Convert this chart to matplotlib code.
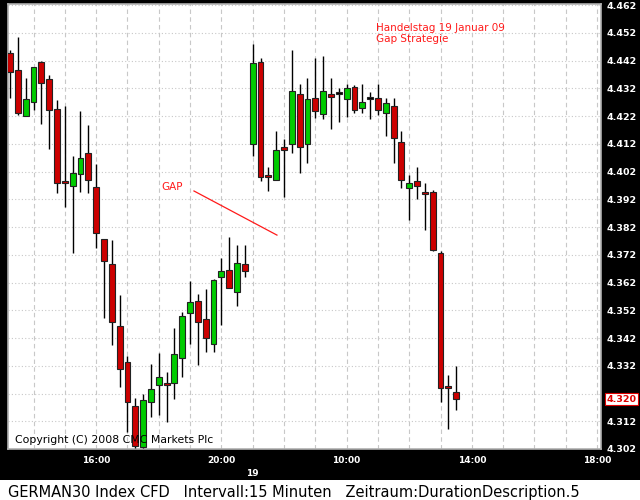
import matplotlib
matplotlib.use("Agg")
import matplotlib.pyplot as plt
from matplotlib.patches import Rectangle

# 15 minute candles, GERMAN30 CFD, 18./19. Jan 2009 (index points)
opens = [4444.7, 4438.6, 4422.0, 4427.0, 4441.5, 4435.3, 4424.5, 4398.6, 4396.8, 4401.1,
         4408.7, 4396.4, 4377.7, 4368.7, 4346.3, 4333.3, 4317.5, 4302.7, 4318.9, 4325.0,
         4325.6, 4325.8, 4334.8, 4351.0, 4355.3, 4348.8, 4339.8, 4364.0, 4366.5, 4358.6,
         4368.7,
         4411.9, 4441.5, 4400.7, 4398.9, 4410.8, 4411.9, 4429.9, 4411.9, 4428.5, 4422.7,
         4429.9, 4429.9, 4428.1, 4432.4, 4424.9, 4428.1, 4428.5, 4423.1, 4425.6, 4412.6,
         4396.0, 4398.6, 4394.6, 4394.6, 4372.6, 4324.7, 4322.5]
highs = [4445.8, 4450.5, 4435.7, 4439.7, 4442.0, 4436.8, 4427.8, 4425.6, 4407.6, 4423.8,
         4418.8, 4404.7, 4377.7, 4377.3, 4357.5, 4335.5, 4320.4, 4321.8, 4332.6, 4336.6,
         4329.7, 4345.6, 4351.4, 4362.5, 4357.8, 4359.6, 4363.2, 4370.8, 4378.4, 4375.5,
         4375.5,
         4447.9, 4442.9, 4403.6, 4416.6, 4413.7, 4445.8, 4433.5, 4435.7, 4442.9, 4443.6,
         4435.7, 4432.1, 4433.5, 4433.2, 4433.5, 4430.6, 4433.5, 4428.5, 4428.5, 4416.6,
         4400.7, 4403.6, 4397.8, 4395.3, 4373.3, 4328.7, 4331.9]
lows = [4428.5, 4422.5, 4422.0, 4424.2, 4419.1, 4410.1, 4394.2, 4389.2, 4372.6, 4394.6,
        4394.2, 4374.4, 4349.2, 4339.5, 4324.3, 4308.1, 4302.5, 4302.5, 4313.5, 4314.2,
        4311.7, 4320.0, 4327.9, 4339.8, 4332.3, 4336.9, 4336.9, 4346.7, 4360.0, 4353.5,
        4364.0,
        4407.6, 4398.6, 4395.0, 4398.9, 4392.8, 4408.7, 4401.5, 4405.1, 4421.3, 4420.9,
        4417.3, 4419.8, 4421.6, 4423.1, 4423.1, 4420.9, 4422.4, 4414.8, 4405.1, 4396.0,
        4384.5, 4392.1, 4380.9, 4373.3, 4318.9, 4309.2, 4316.0]
closes = [4437.9, 4423.1, 4428.1, 4439.7, 4433.9, 4424.2, 4397.8, 4397.8, 4401.5, 4406.9,
          4398.9, 4379.8, 4369.7, 4347.8, 4330.8, 4318.9, 4303.0, 4319.6, 4323.6, 4327.9,
          4325.0, 4336.2, 4349.9, 4355.0, 4347.8, 4342.0, 4362.9, 4366.1, 4360.0, 4369.0,
          4366.1,
          4441.1, 4400.0, 4400.0, 4409.7, 4409.7, 4431.0, 4410.8, 4428.1, 4423.8, 4431.0,
          4428.8, 4429.9, 4432.1, 4424.2, 4427.0, 4428.1, 4424.2, 4426.7, 4414.1, 4398.9,
          4397.8, 4396.8, 4393.9, 4373.7, 4324.0, 4324.0, 4320.0]

price_ticks = list(range(4302, 4463, 10))
time_labels = ['16:00', '20:00', '10:00', '14:00', '18:00']
day_label = '19'
last_price = closes[-1]

n = len(closes)
idx = list(range(n))
day_break = 31          # first candle of 19.01.
candles_per_hour = 4
first_hour = 3          # 14:00 on the first day
axis_end = 75.5

fig = plt.figure(figsize=(6.4, 5.0), dpi=100, facecolor='black')
fig.patches.append(Rectangle((0, 0), 1, 0.04, transform=fig.transFigure,
                             facecolor='white', edgecolor='none', zorder=0))
ax = fig.add_axes([8 / 640, 51 / 500, 593 / 640, 445 / 500])
ax.set_facecolor('white')

# wicks
ax.vlines(idx, lows, highs, color='black', linewidth=1.0, zorder=3)

# bodies
bottoms = [min(o, c) for o, c in zip(opens, closes)]
heights = [max(abs(c - o), 0.7) for o, c in zip(opens, closes)]
colors = []
for o, c in zip(opens, closes):
    if c > o:
        colors.append('#00cc00')
    elif c < o:
        colors.append('#cc0000')
    else:
        colors.append('black')
ax.bar(idx, heights, bottom=bottoms, width=0.75, color=colors,
       edgecolor='#222222', linewidth=0.8, zorder=4)

ax.set_xlim(-0.26, axis_end)
ax.set_ylim(4302, 4462.4)

# hour grid / time labels
hour_pos = list(range(first_hour, int(axis_end) + 1, candles_per_hour))
label_pos = [11, 27, 43, 59, 75]
ax.set_xticks(hour_pos)
ax.set_xticklabels([time_labels[label_pos.index(p)] if p in label_pos else ''
                    for p in hour_pos])
ax.tick_params(axis='x', length=0, pad=5, colors='white', labelsize=6.5)
for lab in ax.get_xticklabels():
    lab.set_fontweight('bold')
ax.text(day_break, -0.045, day_label, transform=ax.get_xaxis_transform(),
        ha='center', va='top', color='white', fontsize=6.5, fontweight='bold')

ax.yaxis.tick_right()
ax.set_yticks(price_ticks)
ax.set_yticklabels(['' if abs(p - last_price) < 5 else f'{p / 1000:.3f}'
                    for p in price_ticks])
ax.tick_params(axis='y', length=0, pad=4, colors='white', labelsize=6.8)
for lab in ax.get_yticklabels():
    lab.set_fontweight('bold')

ax.grid(axis='x', color='#c8c8c8', linewidth=0.8, linestyle=(0, (4, 3)), zorder=1)
ax.grid(axis='y', color='#c8c8c8', linewidth=0.8, linestyle=(0, (1, 2)), zorder=1)
ax.set_axisbelow(True)
for s in ax.spines.values():
    s.set_color('#b0b0b0')
    s.set_linewidth(1.2)

# last price marker
ax.annotate(f'{last_price / 1000:.3f}', xy=(1.0, last_price),
            xycoords=('axes fraction', 'data'), xytext=(4, 0),
            textcoords='offset points', ha='left', va='center',
            color='#dd0000', fontsize=6.8, fontweight='bold',
            bbox=dict(boxstyle='square,pad=0.15', facecolor='white',
                      edgecolor='#dd0000', linewidth=0.8))

# annotations
ax.text(0.621, 0.958, 'Handelstag 19 Januar 09\nGap Strategie',
        transform=ax.transAxes, color='#ff1a1a', fontsize=7.5,
        va='top', ha='left', linespacing=1.15)
ax.text(19.3, 4396.5, 'GAP', color='#ff1a1a', fontsize=7.5, ha='left', va='center')
ax.plot([23.5, 34.1], [4395.0, 4379.1], color='#ff1a1a', linewidth=0.9, zorder=5)

ax.text(0.012, 0.01, 'Copyright (C) 2008 CMC Markets Plc', transform=ax.transAxes,
        color='black', fontsize=7.8, ha='left', va='bottom', zorder=6)

fig.text(8 / 640, 8 / 500, 'GERMAN30 Index CFD   Intervall:15 Minuten   '
         'Zeitraum:DurationDescription.5', color='black', fontsize=10.5,
         ha='left', va='center', zorder=2)

fig.savefig('out.png', dpi=100, facecolor=fig.get_facecolor())
